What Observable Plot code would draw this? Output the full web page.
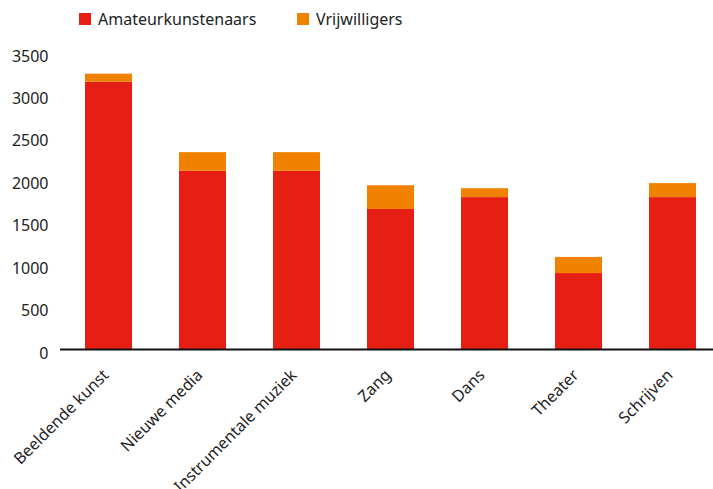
<!DOCTYPE html>
<html>
<head>
<meta charset="utf-8">
<script src="https://cdn.jsdelivr.net/npm/d3@7"></script>
<script src="https://cdn.jsdelivr.net/npm/@observablehq/plot@0.6"></script>
<style>
  body { margin: 0; background: #fff; font-family: "Noto Sans", sans-serif; color: #222; }
  #legend { height: 40px; position: relative; font-size: 16px; }
  .item { position: absolute; top: 8px; display: flex; align-items: center; height: 22px; }
  .sw { width: 12px; height: 12px; margin-right: 7px; }
</style>
</head>
<body>
<div id="legend"></div>
<div id="chart"></div>
<script>
const categories = ["Beeldende kunst", "Nieuwe media", "Instrumentale muziek", "Zang", "Dans", "Theater", "Schrijven"];
const amateurs = [3150, 2100, 2100, 1650, 1790, 895, 1790];
const vrijwilligers = [95, 220, 220, 280, 105, 190, 165];
const seriesNames = ["Amateurkunstenaars", "Vrijwilligers"];
const seriesColors = ["#e61e14", "#f08200"];
const yTicks = [0, 500, 1000, 1500, 2000, 2500, 3000, 3500];

const data = [];
categories.forEach((c, i) => {
  data.push({cat: c, series: seriesNames[0], value: amateurs[i]});
  data.push({cat: c, series: seriesNames[1], value: vrijwilligers[i]});
});

const legend = document.getElementById("legend");
const legendX = [79, 297];
seriesNames.forEach((s, i) => {
  const el = document.createElement("div");
  el.className = "item";
  el.style.left = legendX[i] + "px";
  el.innerHTML = `<span class="sw" style="background:${seriesColors[i]}"></span><span>${s}</span>`;
  legend.appendChild(el);
});

const chart = Plot.plot({
  width: 713,
  height: 449,
  marginTop: 12,
  marginLeft: 60,
  marginRight: 0,
  marginBottom: 140,
  style: {fontFamily: "Noto Sans", fontSize: "16px", color: "#222", background: "#fff"},
  x: {domain: categories, range: [60.5, 720.5], paddingInner: 0.5, paddingOuter: 0.25, label: null},
  y: {domain: [0, 3500], label: null},
  color: {domain: seriesNames, range: seriesColors},
  marks: [
    Plot.barY(data, {x: "cat", y: "value", fill: "series"}),
    Plot.ruleY([0], {stroke: "#111", strokeWidth: 2}),
    Plot.axisY({ticks: yTicks, tickSize: 0, tickPadding: 12, tickFormat: "d", fontSize: 16, dy: 4, fill: "#222"}),
    Plot.axisX({tickSize: 0, tickPadding: 14, tickRotate: -45, fontSize: 16, fill: "#222", dy: 9, dx: -3})
  ]
});
document.getElementById("chart").appendChild(chart);
</script>
</body>
</html>
